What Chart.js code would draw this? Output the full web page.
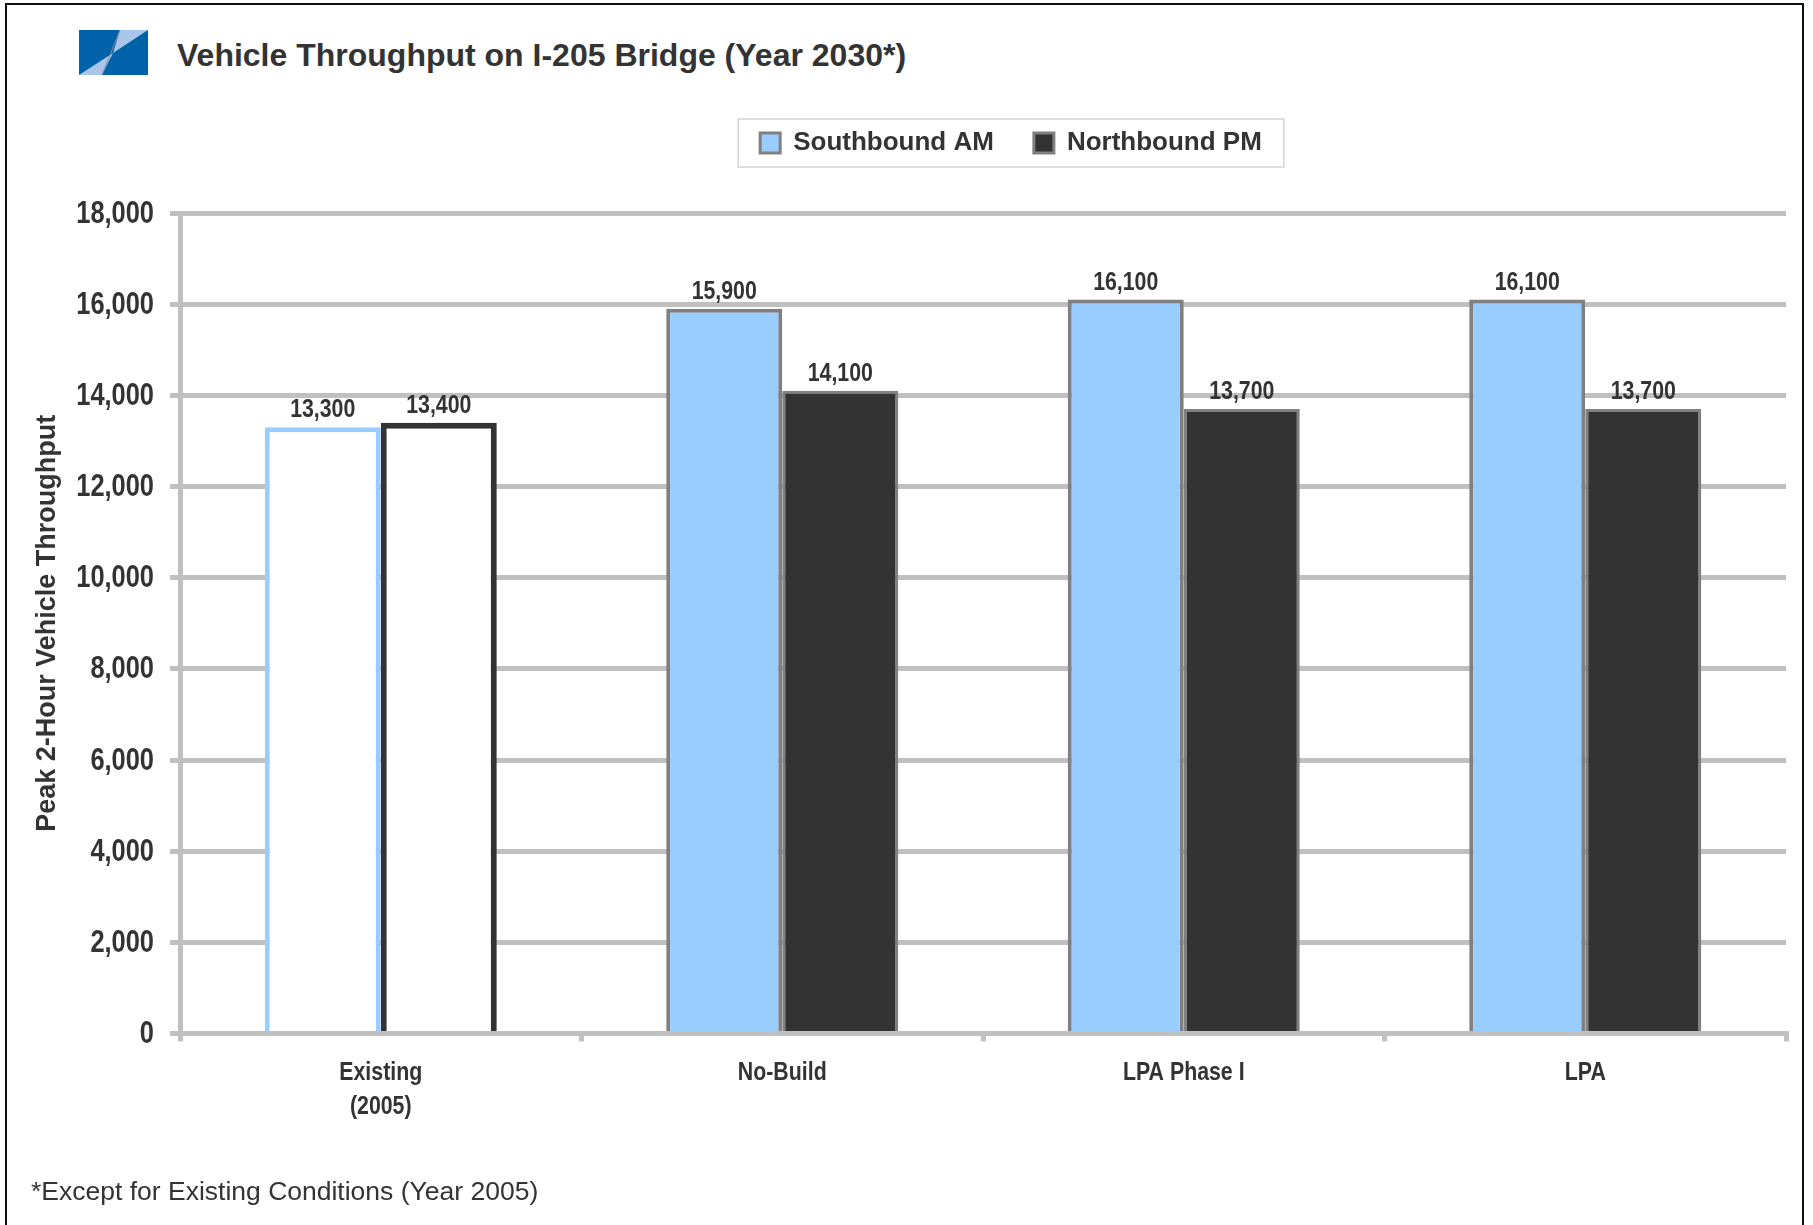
<!DOCTYPE html>
<html lang="en">

<head>
    <meta charset="UTF-8">
    <title>Vehicle Throughput on I-205 Bridge (Year 2030*)</title>
    <script src="https://cdn.jsdelivr.net/npm/chart.js@4.4.0/dist/chart.umd.min.js"></script>
    <style>
        body { margin: 0; background: #fff; overflow: hidden; }
        #frame { position: absolute; left: 5px; top: 3px; width: 1799px; height: 1400px; border: 2px solid #111; box-sizing: border-box; }
        #logo { position: absolute; left: 79px; top: 30px; }
        #title { position: absolute; left: 177px; top: 38px; margin: 0; font: bold 32px 'Liberation Sans', Arial, sans-serif; line-height: 34px; color: #333; white-space: nowrap; }
        #note { position: absolute; left: 31px; top: 1177px; margin: 0; font: 26.5px 'Liberation Sans', Arial, sans-serif; line-height: 28px; color: #333; white-space: nowrap; }
        #myChart { position: absolute; left: 0; top: 0; }
    </style>
</head>

<body>
    <div id="frame"></div>
    <svg id="logo" width="69" height="45" viewBox="0 0 69 45">
        <rect x="0" y="0" width="69" height="45" fill="#0062a9"></rect>
        <polygon points="34,23 41,0 69,0" fill="#a9c6ea"></polygon>
        <polygon points="34,23 0,45 23,45" fill="#a9c6ea"></polygon>
        <line x1="41" y1="0" x2="23" y2="45" stroke="#7f8c99" stroke-width="1"></line>
    </svg>
    <h1 id="title">Vehicle Throughput on I-205 Bridge (Year 2030*)</h1>
    <canvas id="myChart" width="1813" height="1225"></canvas>
    <p id="note">*Except for Existing Conditions (Year 2005)</p>

    <script>
        // values
        const categories = [['Existing', '(2005)'], 'No-Build', 'LPA Phase I', 'LPA']
        const southboundAM = [13300, 15900, 16100, 16100]
        const northboundPM = [13400, 14100, 13700, 13700]
        const yTicks = [0, 2000, 4000, 6000, 8000, 10000, 12000, 14000, 16000, 18000]

        const regular = "'Liberation Sans', Arial, sans-serif"
        const gridGrey = '#c0c0c0'
        const fmt = v => v.toLocaleString('en-US')

        // no Arial Narrow here, so squeeze Liberation Sans bold sideways
        function narrowText(ctx, text, x, y, size, align) {
            ctx.save()
            ctx.translate(x, y)
            ctx.scale(0.82, 1)
            ctx.font = 'bold ' + size + 'px ' + regular
            ctx.fillStyle = '#333'
            ctx.textAlign = align
            ctx.fillText(text, 0, 0)
            ctx.restore()
        }

        // value labels above bars + the narrow tick labels on both axes
        const narrowLabels = {
            id: 'narrowLabels',
            afterDatasetsDraw(chart) {
                const ctx = chart.ctx
                ctx.save()
                ctx.textBaseline = 'alphabetic'
                chart.data.datasets.forEach((ds, i) => {
                    chart.getDatasetMeta(i).data.forEach((bar, j) => {
                        narrowText(ctx, fmt(ds.data[j]), bar.x, bar.y - 10, 26, 'center')
                    })
                })
                ctx.textBaseline = 'middle'
                const y = chart.scales.y
                y.ticks.forEach(t => {
                    narrowText(ctx, fmt(t.value), y.right - 26, y.getPixelForValue(t.value) + 1, 31, 'right')
                })
                const x = chart.scales.x
                chart.data.labels.forEach((lab, i) => {
                    const lines = Array.isArray(lab) ? lab : [lab]
                    const px = x.getPixelForTick(i)
                    lines.forEach((s, k) => narrowText(ctx, s, px, x.top + 39 + k * 34.7, 26, 'center'))
                })
                ctx.restore()
            }
        }

        // moves the legend to where it sits in the original and boxes it
        const legendBox = {
            id: 'legendBox',
            afterLayout(chart) {
                const l = chart.legend
                l.left += 118; l.right += 118
                l.top -= 47; l.bottom -= 47
            },
            afterDraw(chart) {
                const l = chart.legend
                const pad = l.options.labels.padding
                const rowW = l.lineWidths[0]
                const start = (l.left + pad + l.right - rowW) / 2
                const cy = l.top + pad + 13
                const ctx = chart.ctx
                ctx.save()
                ctx.strokeStyle = '#d4d4d4'
                ctx.lineWidth = 1.5
                ctx.strokeRect(start - 22, cy - 24, rowW - pad + 44, 48)
                ctx.restore()
            }
        }

        const chartData = {
            labels: categories,
            datasets: [{
                label: 'Southbound AM',
                data: southboundAM,
                backgroundColor: ['#ffffff', '#99ccff', '#99ccff', '#99ccff'],
                borderColor: ['#99ccff', '#808080', '#808080', '#808080'],
                borderWidth: [5, 4, 4, 4]
            }, {
                label: 'Northbound PM',
                data: northboundPM,
                backgroundColor: ['#ffffff', '#333333', '#333333', '#333333'],
                borderColor: ['#333333', '#808080', '#808080', '#808080'],
                borderWidth: [6, 3, 3, 3]
            }]
        }

        var ctx = document.getElementById('myChart').getContext('2d')
        window.chart = new Chart(ctx, {
            type: 'bar',
            data: chartData,
            plugins: [narrowLabels, legendBox],
            options: {
                responsive: false,
                animation: false,
                events: [],
                devicePixelRatio: 1,
                layout: { padding: { left: 0, right: 27, top: 137, bottom: 0 } },
                datasets: { bar: { categoryPercentage: 0.578, barPercentage: 1 } },
                plugins: {
                    tooltip: { enabled: false },
                    legend: {
                        position: 'top',
                        labels: {
                            font: { family: regular, size: 26, weight: 'bold' },
                            color: '#333',
                            boxWidth: 20,
                            boxHeight: 20,
                            padding: 40,
                            generateLabels: () => [
                                { text: 'Southbound AM', fillStyle: '#99ccff', strokeStyle: '#808080', lineWidth: 3, fontColor: '#333', datasetIndex: 0 },
                                { text: 'Northbound PM', fillStyle: '#333333', strokeStyle: '#808080', lineWidth: 3, fontColor: '#333', datasetIndex: 1 }
                            ]
                        }
                    }
                },
                scales: {
                    x: {
                        afterFit: s => { s.height = 191.5 },
                        grid: { offset: true, drawOnChartArea: false, drawTicks: true, tickLength: 8, color: gridGrey, lineWidth: 5 },
                        border: { display: true, color: gridGrey, width: 5 },
                        ticks: { display: false }
                    },
                    y: {
                        min: 0,
                        max: 18000,
                        afterFit: s => { s.width = 180 },
                        afterBuildTicks: s => { s.ticks = yTicks.map(v => ({ value: v })) },
                        grid: { color: gridGrey, lineWidth: 5, tickLength: 10, drawTicks: true },
                        border: { display: true, color: gridGrey, width: 5 },
                        ticks: { display: false },
                        title: {
                            display: true,
                            text: 'Peak 2-Hour Vehicle Throughput',
                            color: '#333',
                            padding: { top: 31, bottom: 0 },
                            font: { family: regular, size: 27, weight: 'bold', lineHeight: 1.2 }
                        }
                    }
                }
            }
        })
    </script>
</body>

</html>
